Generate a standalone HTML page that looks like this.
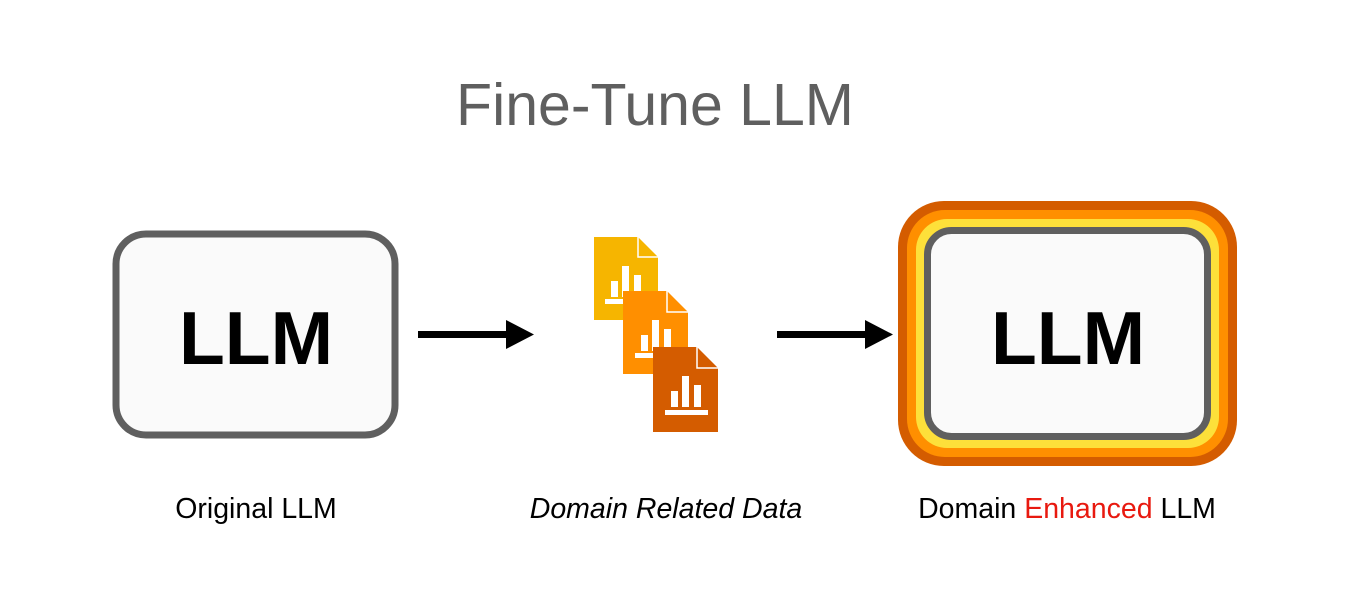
<!DOCTYPE html>
<html><head><style>
body{margin:0;width:1358px;height:614px;background:#fff;overflow:hidden;position:relative;font-family:"Liberation Sans",sans-serif}
.t{position:absolute;white-space:nowrap;text-align:center}
</style></head><body>
<div class="t" style="left:0;width:1310px;top:72px;font-size:59px;color:#5f5f5f;line-height:66px">Fine-Tune LLM</div>
<svg width="1358" height="614" style="position:absolute;left:0;top:0">
<rect x="116" y="234" width="279" height="201" rx="30" fill="#fafafa" stroke="#5f5f5f" stroke-width="7"/>
<rect x="898" y="201" width="339" height="265" rx="46" fill="#d45c00"/>
<rect x="907" y="210" width="321" height="247" rx="38" fill="#ff8f00"/>
<rect x="916" y="219" width="303" height="229" rx="31" fill="#fde03a"/>
<rect x="927.5" y="230.5" width="280" height="206" rx="24" fill="#fafafa" stroke="#5f5f5f" stroke-width="7"/>
<rect x="418" y="331" width="90" height="7" fill="#000"/>
<polygon points="506,320 534,334.5 506,349" fill="#000"/>
<rect x="777" y="331" width="90" height="7" fill="#000"/>
<polygon points="865,320 893,334.5 865,349" fill="#000"/>
<g>
<polygon points="594,237 638,237 658,257 658,320 594,320" fill="#f6b500"/>
<polyline points="638,237 638,257 658,257" fill="none" stroke="#fff" stroke-width="1.5"/>
<rect x="611" y="281" width="7" height="16" fill="#fff"/><rect x="622" y="266" width="7" height="31" fill="#fff"/><rect x="634" y="275" width="7" height="22" fill="#fff"/><rect x="605" y="299" width="41" height="5" fill="#fff"/>
</g>
<g>
<polygon points="623,291 667,291 688,312 688,374 623,374" fill="#ff8f00"/>
<polyline points="667,291 667,312 688,312" fill="none" stroke="#fff" stroke-width="1.5"/>
<rect x="641" y="335" width="7" height="16" fill="#fff"/><rect x="652" y="320" width="7" height="31" fill="#fff"/><rect x="664" y="329" width="7" height="22" fill="#fff"/><rect x="635" y="353" width="41" height="5" fill="#fff"/>
</g>
<g>
<polygon points="653,347 697,347 718,368 718,432 653,432" fill="#d45c00"/>
<polyline points="697,347 697,368 718,368" fill="none" stroke="#fff" stroke-width="1.5"/>
<rect x="671" y="391" width="7" height="16" fill="#fff"/><rect x="682" y="376" width="7" height="31" fill="#fff"/><rect x="694" y="385" width="7" height="22" fill="#fff"/><rect x="665" y="410" width="43" height="5" fill="#fff"/>
</g>
</svg>
<div class="t" style="left:113px;width:286px;top:293px;font-size:75px;font-weight:bold;line-height:90px">LLM</div>
<div class="t" style="left:925px;width:286px;top:293px;font-size:75px;font-weight:bold;line-height:90px">LLM</div>
<div class="t" style="left:106px;width:300px;top:492px;font-size:28.5px;line-height:34px">Original LLM</div>
<div class="t" style="left:516px;width:300px;top:492px;font-size:28.5px;line-height:34px;font-style:italic">Domain Related Data</div>
<div class="t" style="left:867px;width:400px;top:492px;font-size:28.5px;line-height:34px">Domain <span style="color:#e8190f">Enhanced</span> LLM</div>
</body></html>
